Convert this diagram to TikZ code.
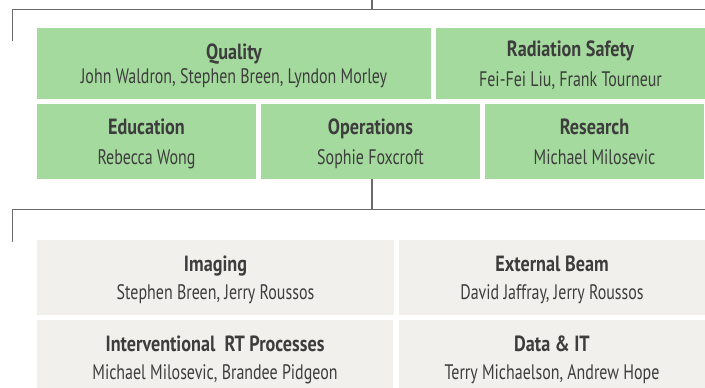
\documentclass[tikz,border=0pt]{standalone}
\usepackage{fontspec}
\setmainfont{PT Sans}
\newfontfamily\namefont[FakeStretch=0.76]{PT Sans}
\newfontfamily\titlefont[FakeStretch=0.825]{PT Sans Bold}
\definecolor{linegray}{HTML}{6B6B6B}
\definecolor{boxgreen}{HTML}{A4DA9D}
\definecolor{boxgray}{HTML}{F1F0EC}
\definecolor{txt}{HTML}{3D3D3D}
\tikzset{
  conn/.style={draw=linegray, line width=1.4pt},
  greenbox/.style={fill=boxgreen, draw=none, inner sep=0pt, rectangle},
  graybox/.style={fill=boxgray, draw=none, inner sep=0pt, rectangle},
  ttl/.style={anchor=base, inner sep=0pt, text=txt, font=\titlefont\fontsize{22}{24}\selectfont},
  nms/.style={anchor=base, inner sep=0pt, text=txt, font=\namefont\fontsize{21}{23}\selectfont},
}
\newcommand{\boxat}[6]{% name, style, x1, y1, x2, y2
  \node[#2, minimum width={#5-#3}, minimum height={#6-#4}] (#1) at ({(#3+#5)/2},{(#4+#6)/2}) {};}
\begin{document}
\begin{tikzpicture}[x=1pt,y=-1pt]
\useasboundingbox (0,0) rectangle (705,388);
% boxes
\boxat{quality}{greenbox}{37}{28}{431}{99}
\boxat{radsafe}{greenbox}{436}{28}{705}{99}
\boxat{education}{greenbox}{37}{104}{256}{179}
\boxat{operations}{greenbox}{261}{104}{480}{179}
\boxat{research}{greenbox}{485}{104}{704}{179}
\boxat{imaging}{graybox}{37}{240}{394}{314.5}
\boxat{extbeam}{graybox}{399}{240}{705}{314.5}
\boxat{interv}{graybox}{37}{320}{393}{396}
\boxat{datait}{graybox}{399}{320}{705}{396}
% texts
\node[ttl] (qualityT) at ([yshift=-32pt]quality.north) {Quality};
\node[nms] (qualityN) at ([yshift=-56pt]quality.north) {John Waldron, Stephen Breen, Lyndon Morley};
\node[ttl] (radsafeT) at ([yshift=-29pt]radsafe.north) {Radiation Safety};
\node[nms] (radsafeN) at ([yshift=-59pt]radsafe.north) {Fei-Fei Liu, Frank Tourneur};
\node[ttl] (educationT) at ([yshift=-31pt]education.north) {Education};
\node[nms] (educationN) at ([yshift=-61pt]education.north) {Rebecca Wong};
\node[ttl] (operationsT) at ([yshift=-31pt]operations.north) {Operations};
\node[nms] (operationsN) at ([yshift=-61pt]operations.north) {Sophie Foxcroft};
\node[ttl] (researchT) at ([yshift=-31pt]research.north) {Research};
\node[nms] (researchN) at ([yshift=-61pt]research.north) {Michael Milosevic};
\node[ttl] (imagingT) at ([yshift=-32pt]imaging.north) {Imaging};
\node[nms] (imagingN) at ([yshift=-60pt]imaging.north) {Stephen Breen, Jerry Roussos};
\node[ttl] (extbeamT) at ([yshift=-32pt]extbeam.north) {External Beam};
\node[nms] (extbeamN) at ([yshift=-60pt]extbeam.north) {David Jaffray, Jerry Roussos};
\node[ttl] (intervT) at ([yshift=-32pt]interv.north) {Interventional~ RT Processes};
\node[nms] (intervN) at ([yshift=-60pt]interv.north) {Michael Milosevic, Brandee Pidgeon};
\node[ttl] (dataitT) at ([yshift=-32pt]datait.north) {Data \& IT};
\node[nms] (dataitN) at ([yshift=-60pt]datait.north) {Terry Michaelson, Andrew Hope};
% connectors
\coordinate (topin) at (372,0);
\coordinate (bus1) at (372,9.5);
\coordinate (bus1L) at (12.7,9.5);
\coordinate (bus1R) at (706,9.5);
\coordinate (bus1D) at (12.7,41);
\draw[conn] (topin) -- (bus1);
\draw[conn] (bus1R) -- (bus1L) -- (bus1D);
\coordinate (bus2) at (372,209.5);
\coordinate (bus2L) at (12.7,209.5);
\coordinate (bus2R) at (706,209.5);
\coordinate (bus2D) at (12.7,241.5);
\draw[conn] ([xshift=1.5pt]operations.south) -- (bus2);
\draw[conn] (bus2R) -- (bus2L) -- (bus2D);
\end{tikzpicture}
\end{document}
